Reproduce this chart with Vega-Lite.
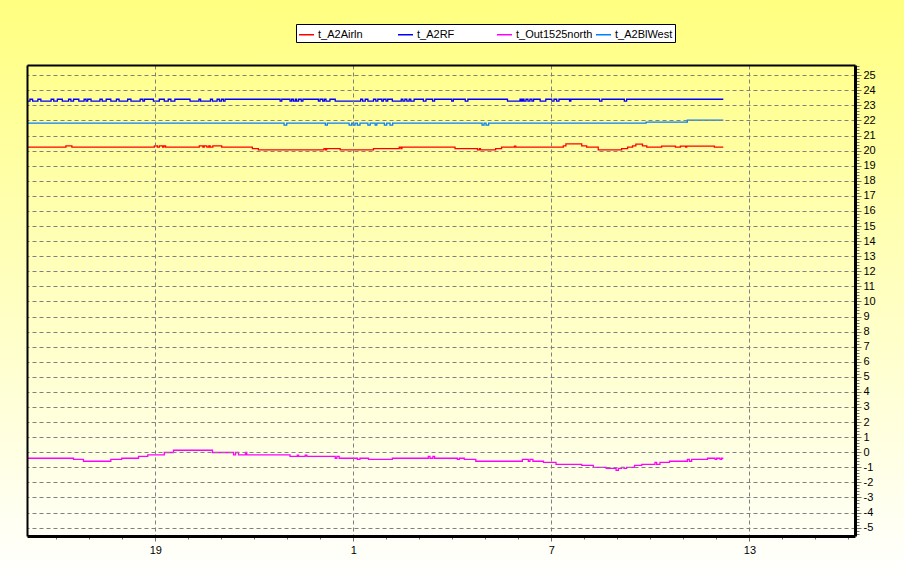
{
  "$schema": "https://vega.github.io/schema/vega-lite/v6.json",
  "width": 828,
  "height": 471,
  "autosize": {"type": "none"},
  "padding": {"left": 27, "top": 65, "right": 49, "bottom": 44},
  "background": "#ffffff",
  "config": {"view": {"stroke": null}, "font": "Liberation Sans"},
  "layer": [
    {
      "data": {"values": [{"x0": 14.292, "x1": 41.686, "y0": -8.474, "y1": 29.99}]},
      "mark": {
        "type": "rect",
        "stroke": null,
        "fill": {
          "gradient": "linear", "x1": 0, "y1": 0, "x2": 0, "y2": 1,
          "stops": [{"offset": 0, "color": "#ffff80"}, {"offset": 1, "color": "#ffffff"}]
        }
      },
      "encoding": {
        "x": {"field": "x0", "type": "quantitative",
          "scale": {"domain": [15.11, 40.2], "nice": false, "zero": false},
          "axis": {"orient": "top", "title": null, "ticks": false, "labels": false, "grid": false, "domainColor": "black", "domainWidth": 2, "zindex": 2}},
        "x2": {"field": "x1"},
        "y": {"field": "y0", "type": "quantitative",
          "scale": {"domain": [-5.556, 25.68], "nice": false, "zero": false},
          "axis": {"orient": "left", "title": null, "ticks": false, "labels": false, "grid": false, "domainColor": "black", "domainWidth": 2, "zindex": 2}},
        "y2": {"field": "y1"}
      }
    },
    {
      "data": {"values": [
        {"s":"t_A2RF","t":15.11,"v":23.28},{"s":"t_A2RF","t":15.2,"v":23.41},{"s":"t_A2RF","t":15.28,"v":23.28},{"s":"t_A2RF","t":15.44,"v":23.41},{"s":"t_A2RF","t":15.53,"v":23.28},{"s":"t_A2RF","t":15.84,"v":23.41},{"s":"t_A2RF","t":15.92,"v":23.28},{"s":"t_A2RF","t":16.03,"v":23.41},{"s":"t_A2RF","t":16.18,"v":23.28},{"s":"t_A2RF","t":16.37,"v":23.41},{"s":"t_A2RF","t":16.44,"v":23.28},{"s":"t_A2RF","t":16.52,"v":23.41},{"s":"t_A2RF","t":16.68,"v":23.28},{"s":"t_A2RF","t":16.84,"v":23.41},{"s":"t_A2RF","t":16.9,"v":23.28},{"s":"t_A2RF","t":16.95,"v":23.41},{"s":"t_A2RF","t":17.05,"v":23.28},{"s":"t_A2RF","t":17.32,"v":23.41},{"s":"t_A2RF","t":17.39,"v":23.28},{"s":"t_A2RF","t":17.51,"v":23.41},{"s":"t_A2RF","t":17.65,"v":23.28},{"s":"t_A2RF","t":17.82,"v":23.41},{"s":"t_A2RF","t":17.9,"v":23.28},{"s":"t_A2RF","t":18.16,"v":23.41},{"s":"t_A2RF","t":18.26,"v":23.28},{"s":"t_A2RF","t":18.54,"v":23.41},{"s":"t_A2RF","t":18.62,"v":23.28},{"s":"t_A2RF","t":18.67,"v":23.41},{"s":"t_A2RF","t":18.94,"v":23.28},{"s":"t_A2RF","t":19.12,"v":23.41},{"s":"t_A2RF","t":19.27,"v":23.28},{"s":"t_A2RF","t":19.39,"v":23.41},{"s":"t_A2RF","t":19.47,"v":23.28},{"s":"t_A2RF","t":19.59,"v":23.41},{"s":"t_A2RF","t":20.05,"v":23.28},{"s":"t_A2RF","t":20.32,"v":23.41},{"s":"t_A2RF","t":20.37,"v":23.28},{"s":"t_A2RF","t":20.67,"v":23.41},{"s":"t_A2RF","t":20.73,"v":23.28},{"s":"t_A2RF","t":20.87,"v":23.41},{"s":"t_A2RF","t":20.94,"v":23.28},{"s":"t_A2RF","t":21.0,"v":23.41},{"s":"t_A2RF","t":21.06,"v":23.28},{"s":"t_A2RF","t":21.11,"v":23.41},{"s":"t_A2RF","t":22.78,"v":23.28},{"s":"t_A2RF","t":22.83,"v":23.41},{"s":"t_A2RF","t":23.08,"v":23.28},{"s":"t_A2RF","t":23.13,"v":23.41},{"s":"t_A2RF","t":23.18,"v":23.28},{"s":"t_A2RF","t":23.24,"v":23.41},{"s":"t_A2RF","t":23.28,"v":23.28},{"s":"t_A2RF","t":23.34,"v":23.41},{"s":"t_A2RF","t":23.42,"v":23.28},{"s":"t_A2RF","t":23.47,"v":23.41},{"s":"t_A2RF","t":23.94,"v":23.28},{"s":"t_A2RF","t":23.99,"v":23.41},{"s":"t_A2RF","t":24.07,"v":23.28},{"s":"t_A2RF","t":24.12,"v":23.41},{"s":"t_A2RF","t":24.17,"v":23.28},{"s":"t_A2RF","t":24.29,"v":23.41},{"s":"t_A2RF","t":24.45,"v":23.28},{"s":"t_A2RF","t":25.22,"v":23.41},{"s":"t_A2RF","t":25.28,"v":23.28},{"s":"t_A2RF","t":25.36,"v":23.41},{"s":"t_A2RF","t":25.44,"v":23.28},{"s":"t_A2RF","t":25.61,"v":23.41},{"s":"t_A2RF","t":25.68,"v":23.28},{"s":"t_A2RF","t":25.74,"v":23.41},{"s":"t_A2RF","t":25.86,"v":23.28},{"s":"t_A2RF","t":25.91,"v":23.41},{"s":"t_A2RF","t":25.99,"v":23.28},{"s":"t_A2RF","t":26.04,"v":23.41},{"s":"t_A2RF","t":26.18,"v":23.28},{"s":"t_A2RF","t":26.45,"v":23.41},{"s":"t_A2RF","t":26.5,"v":23.28},{"s":"t_A2RF","t":26.56,"v":23.41},{"s":"t_A2RF","t":26.62,"v":23.28},{"s":"t_A2RF","t":26.69,"v":23.41},{"s":"t_A2RF","t":26.74,"v":23.28},{"s":"t_A2RF","t":26.84,"v":23.41},{"s":"t_A2RF","t":27.12,"v":23.28},{"s":"t_A2RF","t":27.2,"v":23.41},{"s":"t_A2RF","t":27.4,"v":23.28},{"s":"t_A2RF","t":27.46,"v":23.41},{"s":"t_A2RF","t":27.98,"v":23.28},{"s":"t_A2RF","t":28.03,"v":23.41},{"s":"t_A2RF","t":28.39,"v":23.28},{"s":"t_A2RF","t":28.47,"v":23.41},{"s":"t_A2RF","t":29.67,"v":23.28},{"s":"t_A2RF","t":30.05,"v":23.41},{"s":"t_A2RF","t":30.09,"v":23.28},{"s":"t_A2RF","t":30.13,"v":23.41},{"s":"t_A2RF","t":30.17,"v":23.28},{"s":"t_A2RF","t":30.23,"v":23.41},{"s":"t_A2RF","t":30.29,"v":23.28},{"s":"t_A2RF","t":30.35,"v":23.41},{"s":"t_A2RF","t":30.41,"v":23.28},{"s":"t_A2RF","t":30.46,"v":23.41},{"s":"t_A2RF","t":30.66,"v":23.28},{"s":"t_A2RF","t":30.83,"v":23.41},{"s":"t_A2RF","t":31.01,"v":23.28},{"s":"t_A2RF","t":31.08,"v":23.41},{"s":"t_A2RF","t":31.16,"v":23.28},{"s":"t_A2RF","t":31.23,"v":23.41},{"s":"t_A2RF","t":31.55,"v":23.28},{"s":"t_A2RF","t":31.59,"v":23.41},{"s":"t_A2RF","t":32.46,"v":23.28},{"s":"t_A2RF","t":32.53,"v":23.41},{"s":"t_A2RF","t":33.21,"v":23.28},{"s":"t_A2RF","t":33.28,"v":23.41},{"s":"t_A2RF","t":36.21,"v":23.41},
        {"s":"t_A2BlWest","t":15.11,"v":21.82},{"s":"t_A2BlWest","t":22.9,"v":21.69},{"s":"t_A2BlWest","t":22.98,"v":21.82},{"s":"t_A2BlWest","t":24.15,"v":21.69},{"s":"t_A2BlWest","t":24.21,"v":21.82},{"s":"t_A2BlWest","t":24.87,"v":21.69},{"s":"t_A2BlWest","t":24.95,"v":21.82},{"s":"t_A2BlWest","t":25.0,"v":21.69},{"s":"t_A2BlWest","t":25.05,"v":21.82},{"s":"t_A2BlWest","t":25.12,"v":21.69},{"s":"t_A2BlWest","t":25.2,"v":21.82},{"s":"t_A2BlWest","t":25.44,"v":21.69},{"s":"t_A2BlWest","t":25.51,"v":21.82},{"s":"t_A2BlWest","t":25.66,"v":21.69},{"s":"t_A2BlWest","t":25.71,"v":21.82},{"s":"t_A2BlWest","t":25.94,"v":21.69},{"s":"t_A2BlWest","t":26.01,"v":21.82},{"s":"t_A2BlWest","t":26.11,"v":21.69},{"s":"t_A2BlWest","t":26.19,"v":21.82},{"s":"t_A2BlWest","t":28.9,"v":21.69},{"s":"t_A2BlWest","t":28.96,"v":21.82},{"s":"t_A2BlWest","t":29.02,"v":21.69},{"s":"t_A2BlWest","t":29.1,"v":21.82},{"s":"t_A2BlWest","t":33.87,"v":21.89},{"s":"t_A2BlWest","t":35.12,"v":22.02},{"s":"t_A2BlWest","t":36.21,"v":22.02},
        {"s":"t_A2Airln","t":15.11,"v":20.23},{"s":"t_A2Airln","t":16.29,"v":20.32},{"s":"t_A2Airln","t":16.47,"v":20.23},{"s":"t_A2Airln","t":18.97,"v":20.32},{"s":"t_A2Airln","t":19.06,"v":20.23},{"s":"t_A2Airln","t":19.12,"v":20.32},{"s":"t_A2Airln","t":19.22,"v":20.23},{"s":"t_A2Airln","t":19.26,"v":20.32},{"s":"t_A2Airln","t":19.31,"v":20.23},{"s":"t_A2Airln","t":20.33,"v":20.32},{"s":"t_A2Airln","t":20.44,"v":20.23},{"s":"t_A2Airln","t":20.48,"v":20.32},{"s":"t_A2Airln","t":20.56,"v":20.23},{"s":"t_A2Airln","t":20.62,"v":20.32},{"s":"t_A2Airln","t":20.66,"v":20.23},{"s":"t_A2Airln","t":20.74,"v":20.32},{"s":"t_A2Airln","t":21.01,"v":20.23},{"s":"t_A2Airln","t":21.94,"v":20.14},{"s":"t_A2Airln","t":22.12,"v":20.05},{"s":"t_A2Airln","t":24.11,"v":20.14},{"s":"t_A2Airln","t":24.16,"v":20.05},{"s":"t_A2Airln","t":24.19,"v":20.14},{"s":"t_A2Airln","t":24.6,"v":20.05},{"s":"t_A2Airln","t":25.61,"v":20.14},{"s":"t_A2Airln","t":26.39,"v":20.23},{"s":"t_A2Airln","t":26.44,"v":20.14},{"s":"t_A2Airln","t":26.47,"v":20.23},{"s":"t_A2Airln","t":28.08,"v":20.14},{"s":"t_A2Airln","t":28.76,"v":20.05},{"s":"t_A2Airln","t":28.82,"v":20.14},{"s":"t_A2Airln","t":28.85,"v":20.05},{"s":"t_A2Airln","t":29.31,"v":20.14},{"s":"t_A2Airln","t":29.49,"v":20.23},{"s":"t_A2Airln","t":29.88,"v":20.3},{"s":"t_A2Airln","t":29.92,"v":20.23},{"s":"t_A2Airln","t":31.36,"v":20.32},{"s":"t_A2Airln","t":31.44,"v":20.45},{"s":"t_A2Airln","t":31.92,"v":20.32},{"s":"t_A2Airln","t":32.07,"v":20.23},{"s":"t_A2Airln","t":32.42,"v":20.05},{"s":"t_A2Airln","t":33.13,"v":20.14},{"s":"t_A2Airln","t":33.31,"v":20.23},{"s":"t_A2Airln","t":33.46,"v":20.32},{"s":"t_A2Airln","t":33.56,"v":20.43},{"s":"t_A2Airln","t":33.76,"v":20.32},{"s":"t_A2Airln","t":33.89,"v":20.23},{"s":"t_A2Airln","t":34.34,"v":20.3},{"s":"t_A2Airln","t":34.76,"v":20.23},{"s":"t_A2Airln","t":34.91,"v":20.3},{"s":"t_A2Airln","t":35.07,"v":20.23},{"s":"t_A2Airln","t":35.1,"v":20.3},{"s":"t_A2Airln","t":35.94,"v":20.23},{"s":"t_A2Airln","t":36.21,"v":20.23},
        {"s":"t_Out1525north","t":15.11,"v":-0.4},{"s":"t_Out1525north","t":16.52,"v":-0.47},{"s":"t_Out1525north","t":16.82,"v":-0.6},{"s":"t_Out1525north","t":17.65,"v":-0.47},{"s":"t_Out1525north","t":17.98,"v":-0.4},{"s":"t_Out1525north","t":18.49,"v":-0.27},{"s":"t_Out1525north","t":18.77,"v":-0.18},{"s":"t_Out1525north","t":19.27,"v":-0.02},{"s":"t_Out1525north","t":19.55,"v":0.13},{"s":"t_Out1525north","t":20.73,"v":-0.02},{"s":"t_Out1525north","t":21.37,"v":-0.18},{"s":"t_Out1525north","t":21.43,"v":-0.02},{"s":"t_Out1525north","t":21.52,"v":-0.18},{"s":"t_Out1525north","t":21.73,"v":-0.02},{"s":"t_Out1525north","t":21.77,"v":-0.18},{"s":"t_Out1525north","t":23.08,"v":-0.27},{"s":"t_Out1525north","t":23.3,"v":-0.2},{"s":"t_Out1525north","t":23.34,"v":-0.27},{"s":"t_Out1525north","t":23.54,"v":-0.2},{"s":"t_Out1525north","t":23.59,"v":-0.27},{"s":"t_Out1525north","t":24.45,"v":-0.4},{"s":"t_Out1525north","t":24.5,"v":-0.27},{"s":"t_Out1525north","t":24.57,"v":-0.4},{"s":"t_Out1525north","t":25.12,"v":-0.47},{"s":"t_Out1525north","t":25.2,"v":-0.4},{"s":"t_Out1525north","t":25.46,"v":-0.47},{"s":"t_Out1525north","t":26.18,"v":-0.4},{"s":"t_Out1525north","t":27.27,"v":-0.27},{"s":"t_Out1525north","t":27.32,"v":-0.4},{"s":"t_Out1525north","t":27.41,"v":-0.27},{"s":"t_Out1525north","t":27.46,"v":-0.4},{"s":"t_Out1525north","t":28.15,"v":-0.47},{"s":"t_Out1525north","t":28.21,"v":-0.4},{"s":"t_Out1525north","t":28.36,"v":-0.47},{"s":"t_Out1525north","t":28.71,"v":-0.6},{"s":"t_Out1525north","t":30.12,"v":-0.47},{"s":"t_Out1525north","t":30.3,"v":-0.6},{"s":"t_Out1525north","t":30.35,"v":-0.47},{"s":"t_Out1525north","t":30.44,"v":-0.6},{"s":"t_Out1525north","t":30.76,"v":-0.67},{"s":"t_Out1525north","t":31.14,"v":-0.8},{"s":"t_Out1525north","t":31.92,"v":-0.87},{"s":"t_Out1525north","t":32.27,"v":-1.0},{"s":"t_Out1525north","t":32.66,"v":-1.07},{"s":"t_Out1525north","t":32.96,"v":-1.2},{"s":"t_Out1525north","t":33.03,"v":-1.07},{"s":"t_Out1525north","t":33.13,"v":-1.0},{"s":"t_Out1525north","t":33.2,"v":-1.07},{"s":"t_Out1525north","t":33.28,"v":-1.0},{"s":"t_Out1525north","t":33.52,"v":-0.87},{"s":"t_Out1525north","t":33.74,"v":-0.8},{"s":"t_Out1525north","t":34.14,"v":-0.67},{"s":"t_Out1525north","t":34.19,"v":-0.8},{"s":"t_Out1525north","t":34.29,"v":-0.67},{"s":"t_Out1525north","t":34.58,"v":-0.6},{"s":"t_Out1525north","t":35.12,"v":-0.47},{"s":"t_Out1525north","t":35.18,"v":-0.6},{"s":"t_Out1525north","t":35.25,"v":-0.47},{"s":"t_Out1525north","t":35.73,"v":-0.4},{"s":"t_Out1525north","t":35.96,"v":-0.47},{"s":"t_Out1525north","t":36.01,"v":-0.4},{"s":"t_Out1525north","t":36.11,"v":-0.47},{"s":"t_Out1525north","t":36.16,"v":-0.4},{"s":"t_Out1525north","t":36.21,"v":-0.4}
      ]},
      "mark": {"type": "line", "interpolate": "step-after", "strokeWidth": 1.3},
      "encoding": {
        "x": {"field": "t", "type": "quantitative",
          "scale": {"domain": [15.11, 40.2], "nice": false, "zero": false},
          "axis": {
            "orient": "bottom", "title": null, "zindex": 1,
            "values": [16,17,18,19,20,21,22,23,24,25,26,27,28,29,30,31,32,33,34,35,36,37,38,39,40],
            "labelExpr": "datum.value % 6 == 1 ? '' + (datum.value % 24) : ''",
            "labelOverlap": false, "labelFlush": false, "labelBound": false,
            "labelFont": "Liberation Sans", "labelFontSize": 11, "labelColor": "black", "labelPadding": 3,
            "grid": true, "gridColor": "#808080", "gridDash": [4, 3], "gridWidth": 1,
            "gridOpacity": {"condition": {"test": "datum.value % 6 == 1", "value": 1}, "value": 0},
            "tickColor": "#707070",
            "tickSize": {"condition": {"test": "datum.value % 6 == 1", "value": 5}, "value": 3},
            "domainColor": "black", "domainWidth": 3
          }},
        "y": {"field": "v", "type": "quantitative",
          "scale": {"domain": [-5.556, 25.68], "nice": false, "zero": false},
          "axis": {
            "orient": "right", "title": null, "zindex": 1,
            "values": [-5.4,-5.2,-5,-4.8,-4.6,-4.4,-4.2,-4,-3.8,-3.6,-3.4,-3.2,-3,-2.8,-2.6,-2.4,-2.2,-2,-1.8,-1.6,-1.4,-1.2,-1,-0.8,-0.6,-0.4,-0.2,0,0.2,0.4,0.6,0.8,1,1.2,1.4,1.6,1.8,2,2.2,2.4,2.6,2.8,3,3.2,3.4,3.6,3.8,4,4.2,4.4,4.6,4.8,5,5.2,5.4,5.6,5.8,6,6.2,6.4,6.6,6.8,7,7.2,7.4,7.6,7.8,8,8.2,8.4,8.6,8.8,9,9.2,9.4,9.6,9.8,10,10.2,10.4,10.6,10.8,11,11.2,11.4,11.6,11.8,12,12.2,12.4,12.6,12.8,13,13.2,13.4,13.6,13.8,14,14.2,14.4,14.6,14.8,15,15.2,15.4,15.6,15.8,16,16.2,16.4,16.6,16.8,17,17.2,17.4,17.6,17.8,18,18.2,18.4,18.6,18.8,19,19.2,19.4,19.6,19.8,20,20.2,20.4,20.6,20.8,21,21.2,21.4,21.6,21.8,22,22.2,22.4,22.6,22.8,23,23.2,23.4,23.6,23.8,24,24.2,24.4,24.6,24.8,25,25.2,25.4,25.6],
            "labelExpr": "datum.value == round(datum.value) ? '' + datum.value : ''",
            "labelOverlap": false, "labelFlush": false, "labelBound": false,
            "labelFont": "Liberation Sans", "labelFontSize": 11, "labelColor": "black", "labelPadding": 2,
            "grid": true, "gridColor": "#808080", "gridDash": [4, 3], "gridWidth": 1,
            "gridOpacity": {"condition": {"test": "datum.value == round(datum.value)", "value": 1}, "value": 0},
            "tickColor": "#707070",
            "tickSize": {"condition": {"test": "datum.value == round(datum.value)", "value": 6}, "value": 4},
            "domainColor": "black", "domainWidth": 3
          }},
        "color": {"field": "s", "type": "nominal",
          "scale": {"domain": ["t_A2Airln", "t_A2RF", "t_Out1525north", "t_A2BlWest"],
                    "range": ["#ff0000", "#0000ff", "#ff00ff", "#0080ff"]},
          "legend": {
            "orient": "none", "legendX": 269, "legendY": -41,
            "direction": "horizontal", "columns": 4, "gridAlign": "all",
            "title": null, "symbolType": "stroke", "symbolSize": 225, "symbolStrokeWidth": 1.5,
            "labelFont": "Liberation Sans", "labelFontSize": 11, "labelColor": "black",
            "labelOffset": 3, "columnPadding": 0, "padding": 2,
            "strokeColor": "black", "fillColor": "white"
          }}
      }
    }
  ],
  "resolve": {"axis": {"x": "independent", "y": "independent"}}
}
